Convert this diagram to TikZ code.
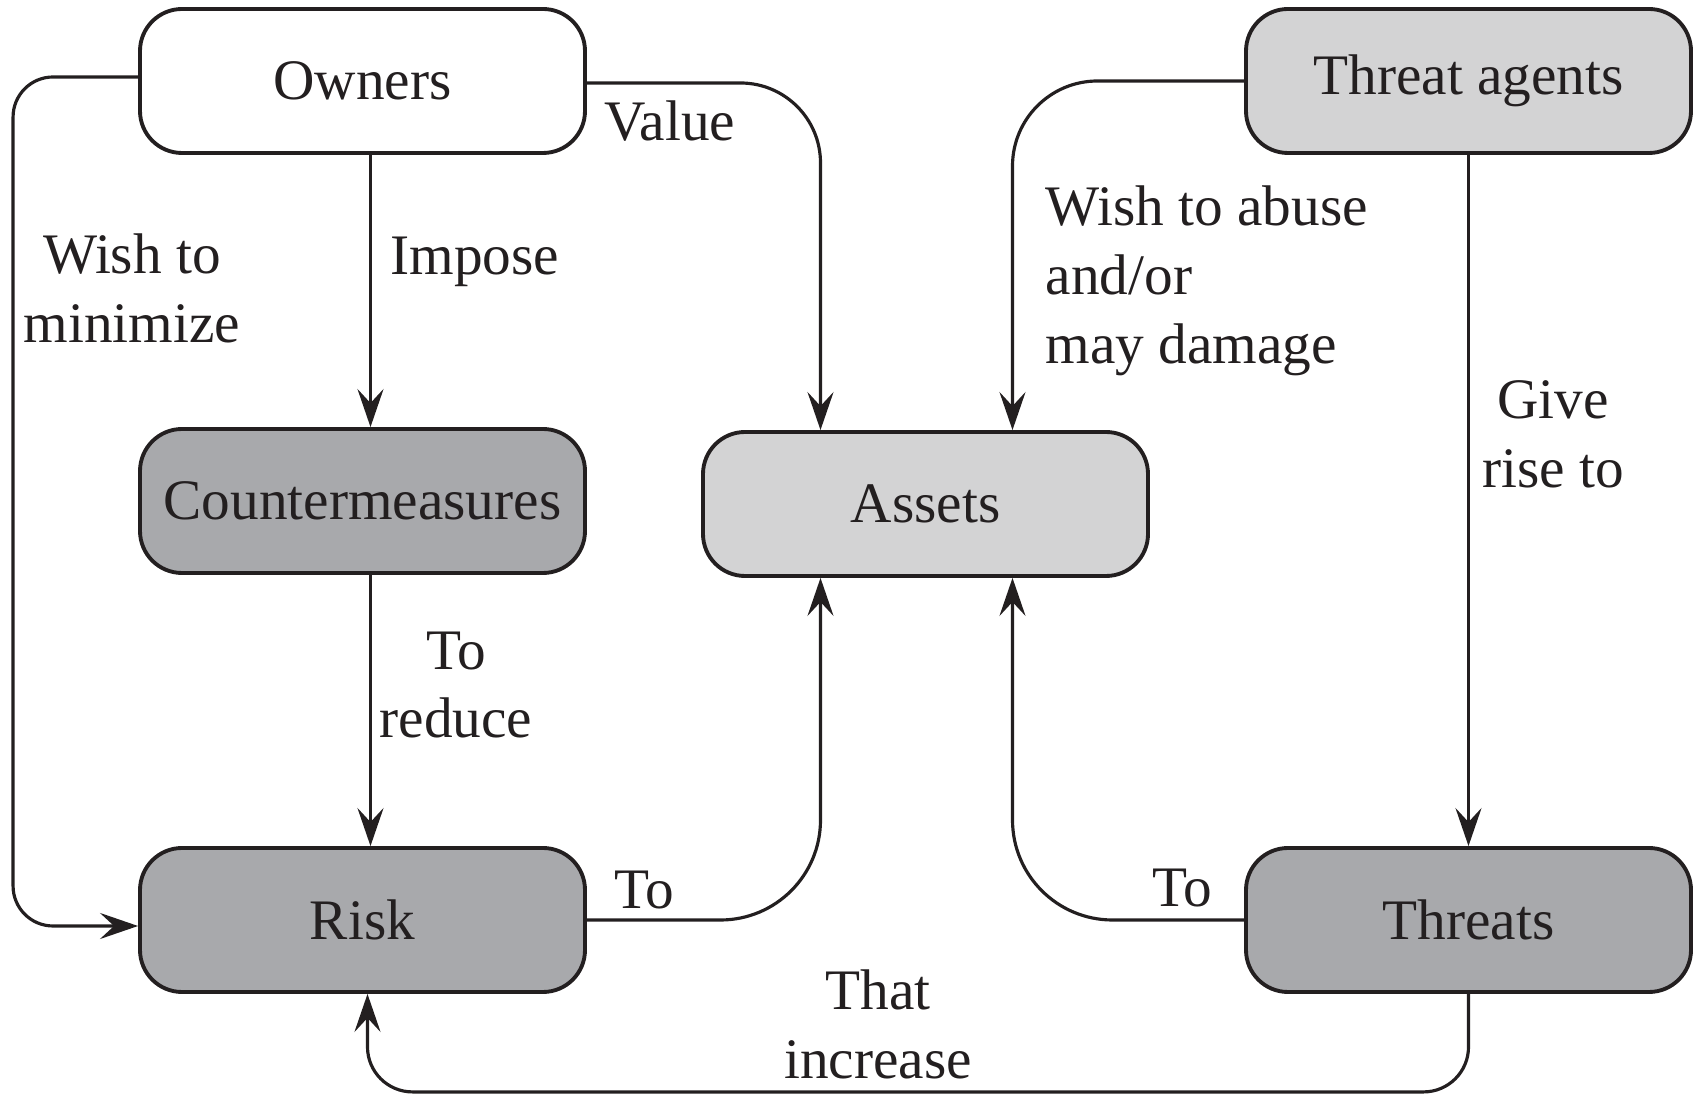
\documentclass[tikz,border=0pt]{standalone}
\usepackage{fontspec}
\setmainfont{Liberation Serif}
\usetikzlibrary{arrows.meta}

\definecolor{ink}{RGB}{35,31,32}
\definecolor{boxlight}{RGB}{211,211,212}
\definecolor{boxdark}{RGB}{168,169,172}

\begin{document}
\begin{tikzpicture}[
    every node/.style={font=\fontsize{16.3}{19.6}\selectfont, text=ink},
    box/.style={draw=ink, line width=1.1pt, rounded corners=4.2mm,
        minimum width=4.45cm, minimum height=1.44cm, inner sep=0pt},
    link/.style={draw=ink, line width=0.9pt,
        -{Stealth[length=3.8mm, width=2.6mm, inset=1.4mm]}},
    tag/.style={align=center, inner sep=0pt}
]
    % Fix the page size
    \useasboundingbox (0,0) rectangle (16.94,10.94);

    % Boxes
    \node[box, fill=white] (own) at (3.625,10.13) {Owners};
    \node[box, fill=boxlight] (tagent) at (14.685,10.13) {Threat agents};
    \node[box, fill=boxdark] (cm) at (3.625,5.93) {Countermeasures};
    \node[box, fill=boxlight] (assets) at (9.255,5.90) {Assets};
    \node[box, fill=boxdark] (risk) at (3.625,1.74) {Risk};
    \node[box, fill=boxdark] (threats) at (14.685,1.74) {Threats};

    % Left column
    \draw[link, rounded corners=4mm] ([yshift=0.4mm]own.west) -- ++(-1.25,0) |- ([yshift=-0.6mm]risk.west);
    \draw[link] ([xshift=0.8mm]own.south) -- ([xshift=0.8mm]cm.north);
    \draw[link] ([xshift=0.8mm]cm.south) -- ([xshift=0.8mm]risk.north);

    % Into the assets
    \draw[link, rounded corners=8mm] ([yshift=-0.2mm]own.east) -| ([xshift=-1.05cm]assets.north);
    \draw[link, rounded corners=8.5mm] (tagent.west) -| ([xshift=0.87cm]assets.north);
    \draw[link, rounded corners=10mm] (risk.east) -| ([xshift=-1.05cm]assets.south);
    \draw[link, rounded corners=10mm] (threats.west) -| ([xshift=0.87cm]assets.south);

    % Right column and bottom loop
    \draw[link] (tagent.south) -- (threats.north);
    \draw[link, rounded corners=4.5mm] (threats.south) -- ++(0,-0.98) -| ([xshift=0.5mm]risk.south);

    % Labels
    \node[tag] (lvalue) at (6.70,9.73) {Value};
    \node[tag] (lmin) at (1.32,8.06) {Wish to\\minimize};
    \node[tag] (limpose) at (4.75,8.32) {Impose};
    \node[tag] (lreduce) at (4.56,4.09) {To\\reduce};
    \node[tag] (lto) at (6.44,2.04) {To};
    \node[tag, anchor=west, align=left] (labuse) at (10.45,8.13) {Wish to abuse\\and/or\\may damage};
    \node[tag] (lrise) at (15.53,6.60) {Give\\rise to};
    \node[tag] (lto2) at (11.82,2.06) {To};
    \node[tag] (lincr) at (8.78,0.70) {That\\increase};
\end{tikzpicture}
\end{document}
